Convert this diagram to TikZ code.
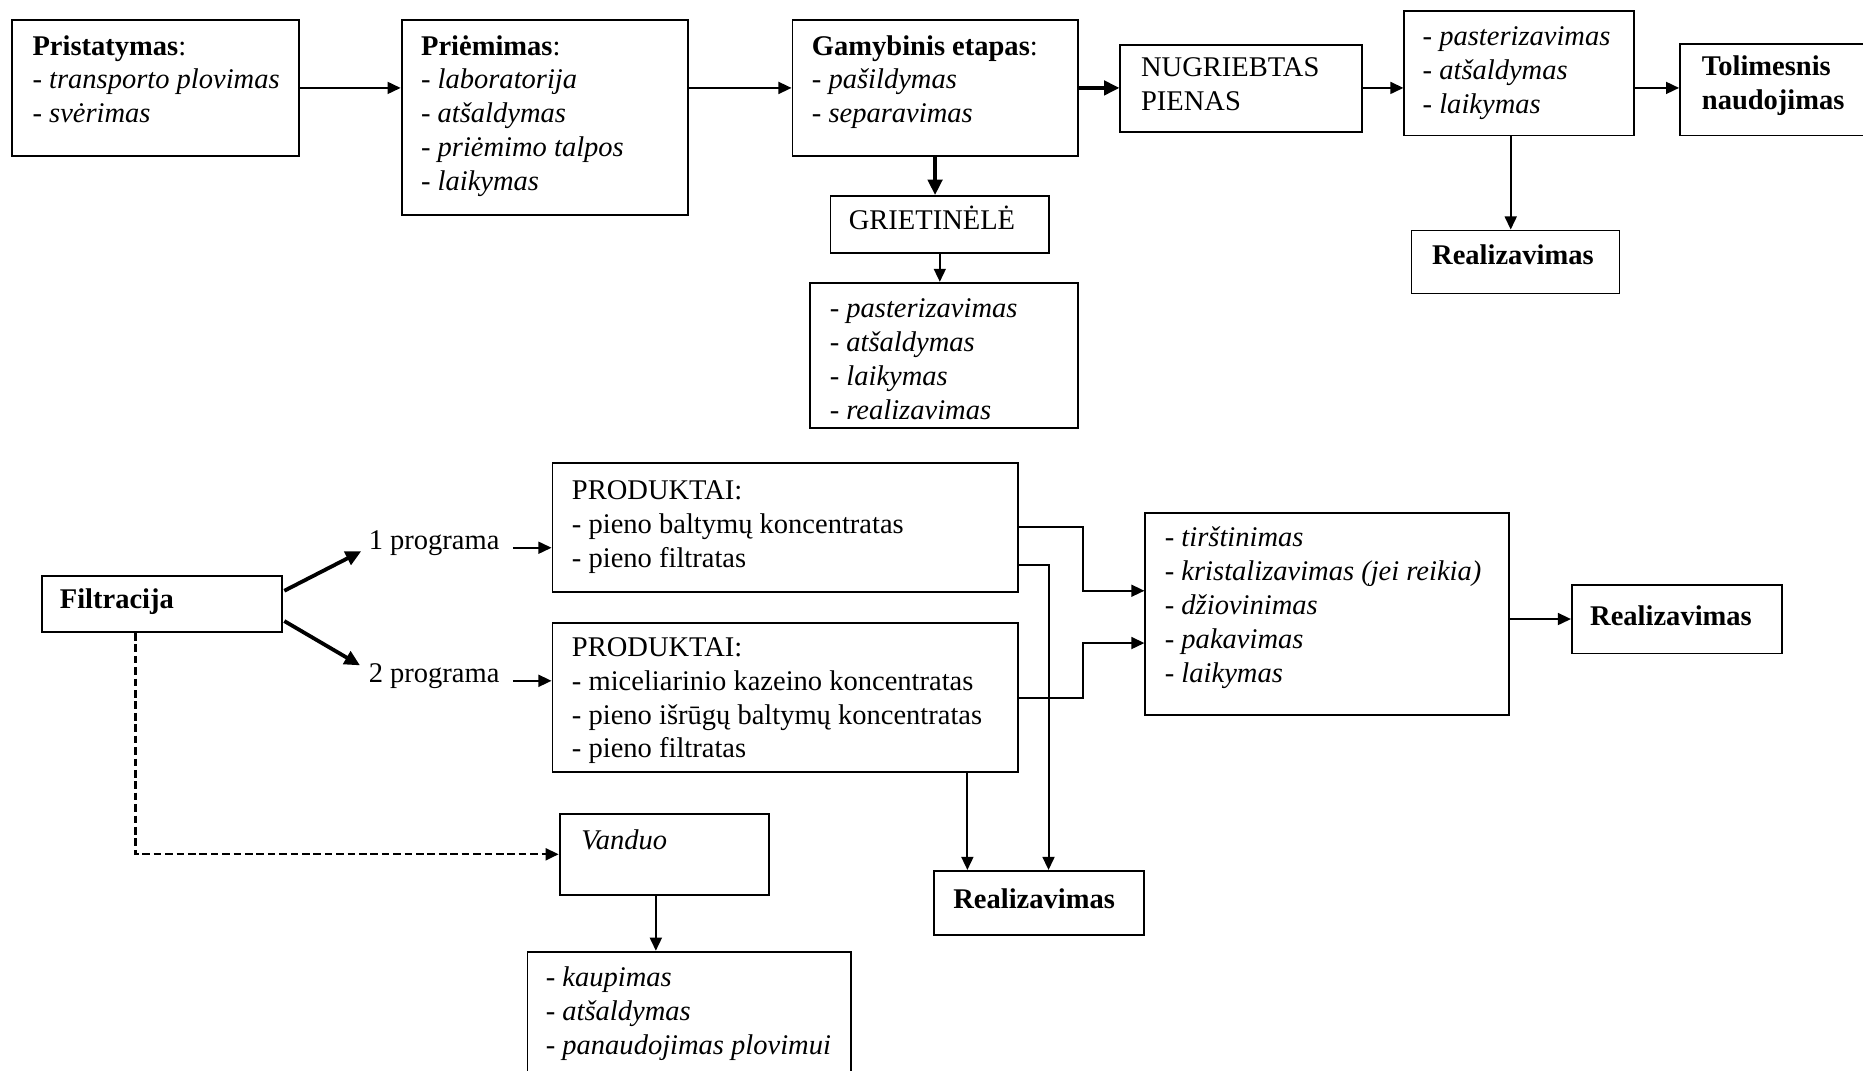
\documentclass[tikz,border=0pt]{standalone}
\usepackage{fontspec}
\setmainfont{Liberation Serif}
\usetikzlibrary{arrows.meta,fit,calc}
\newcommand{\myfs}{\fontsize{12}{14.25}\selectfont}
\newcommand{\bx}[5]{\node[box, fit={(#2,#3) (#4,#5)}] (#1) {};}
\tikzset{
  box/.style={draw, line width=0.8pt, inner sep=0pt},
  txt/.style={anchor=north west, align=left, inner sep=0pt, font=\myfs},
  arr/.style={-{Triangle[length=5.5pt,width=5pt]}, line width=0.85pt},
  thickarr/.style={-{Triangle[length=6.5pt,width=6pt]}, line width=1.6pt},
  dasharr/.style={-{Triangle[length=5.5pt,width=5pt]}, line width=1pt, dash pattern=on 3.2pt off 1.6pt},
}
\begin{document}
\begin{tikzpicture}[x=0.5pt,y=-0.5pt]
\useasboundingbox (0,0) rectangle (1568,901);
\clip (0,0) rectangle (1568,901);
% boxes
\bx{pris}{10}{17}{252}{131}
\bx{prie}{338}{17}{579}{181}
\bx{gam}{667}{17}{907}{131}
\bx{nug}{943}{38}{1146}{111}
\bx{past}{1182}{9}{1375}{114}
\bx{tol}{1414}{37}{1620}{114}
\bx{grie}{699}{165}{883}{213}
\bx{grl}{682}{238}{907}{360}
\bx{realA}{1188}{194}{1363}{247}
\bx{filt}{35}{485}{237}{532}
\bx{prodA}{465}{390}{857}{498}
\bx{prodB}{465}{524}{857}{650}
\bx{big}{964}{432}{1270}{602}
\bx{realB}{1323}{492}{1500}{550}
\bx{van}{471}{685}{647}{753}
\bx{vanl}{444}{801}{716}{940}
\bx{realC}{786}{733}{963}{787}
% texts
\node[txt] (tpris) at (27,26) {\strut\textbf{Pristatymas}:\\- \textit{transporto plovimas}\\- \textit{svėrimas}};
\node[txt] (tprie) at (354,26) {\strut\textbf{Priėmimas}:\\- \textit{laboratorija}\\- \textit{atšaldymas}\\- \textit{priėmimo talpos}\\- \textit{laikymas}};
\node[txt] (tgam) at (683,26) {\strut\textbf{Gamybinis etapas}:\\- \textit{pašildymas}\\- \textit{separavimas}};
\node[txt] (tnug) at (960,44) {\strut NUGRIEBTAS\\PIENAS};
\node[txt] (tpast) at (1197,18) {\strut- \textit{pasterizavimas}\\- \textit{atšaldymas}\\- \textit{laikymas}};
\node[txt] (ttol) at (1432,43) {\strut\textbf{Tolimesnis}\\\textbf{naudojimas}};
\node[txt] (tgrie) at (714,173) {\strut GRIETINĖLĖ};
\node[txt] (tgrl) at (698,247) {\strut- \textit{pasterizavimas}\\- \textit{atšaldymas}\\- \textit{laikymas}\\- \textit{realizavimas}};
\node[txt] (trealA) at (1205,202) {\strut\textbf{Realizavimas}};
\node[txt] (tfilt) at (50,492) {\strut\textbf{Filtracija}};
\node[txt] (tprodA) at (481,400) {\strut PRODUKTAI:\\- pieno baltymų koncentratas\\- pieno filtratas};
\node[txt] (tprodB) at (481,532) {\strut PRODUKTAI:\\- miceliarinio kazeino koncentratas\\- pieno išrūgų baltymų koncentratas\\- pieno filtratas};
\node[txt] (tbig) at (980,440) {\strut- \textit{tirštinimas}\\- \textit{kristalizavimas (jei reikia)}\\- \textit{džiovinimas}\\- \textit{pakavimas}\\- \textit{laikymas}};
\node[txt] (trealB) at (1338,506) {\strut\textbf{Realizavimas}};
\node[txt] (tvan) at (489,695) {\strut\textit{Vanduo}};
\node[txt] (tvanl) at (459,810) {\strut- \textit{kaupimas}\\- \textit{atšaldymas}\\- \textit{panaudojimas plovimui}};
\node[txt] (trealC) at (802,744) {\strut\textbf{Realizavimas}};
\node[font=\myfs, inner sep=0pt, anchor=west] (progA) at (310,457) {1 programa};
\node[font=\myfs, inner sep=0pt, anchor=west] (progB) at (310,569) {2 programa};
% top arrows
\draw[arr] (pris.east) -- (pris.east -| prie.west);
\draw[arr] (pris.east -| prie.east) -- (pris.east -| gam.west);
\draw[thickarr] (pris.east -| gam.east) -- (pris.east -| nug.west);
\draw[arr] (pris.east -| nug.east) -- (pris.east -| past.west);
\draw[arr] (pris.east -| past.east) -- (pris.east -| tol.west);
\draw[thickarr] (gam.south) -- (gam.south |- grie.north);
\draw[arr] (grie.south) -- (grie.south |- grl.north);
\coordinate (pa) at ($(realA.north)+(-4,0)$);
\draw[arr] (pa |- past.south) -- (pa);
% bottom arrows
\draw[thickarr] ($(filt.north east)+(1.5,13)$) -- ($(progA.west)+(-6,7)$);
\draw[thickarr] ($(filt.north east)+(1.5,38.5)$) -- ($(progB.west)+(-7,-9)$);
\coordinate (qa) at ($(progA.east)+(11,4)$);
\draw[arr] (qa) -- (qa -| prodA.west);
\coordinate (qb) at ($(progB.east)+(11,4)$);
\draw[arr] (qb) -- (qb -| prodB.west);
\draw[arr] ($(prodA.north east)+(0,54.7)$) -- ++(53.5,0) |- ($(big.north west)+(0,66)$);
\draw[arr] ($(prodB.north east)+(0,64.4)$) -- ++(53.5,0) |- ($(big.north west)+(0,110)$);
\coordinate (rcb) at ($(realC.north)+(8,0)$);
\draw[arr] ($(prodA.north east)+(0,86.4)$) -| (rcb);
\coordinate (rca) at ($(realC.north west)+(29,0)$);
\draw[arr] (rca |- prodB.south) -- (rca);
\draw[arr] (big.east |- realB.west) -- (realB.west);
\coordinate (va) at ($(van.south)+(-7,0)$);
\draw[arr] (va) -- (va |- vanl.north);
\coordinate (da) at ($(filt.south)+(-22,0)$);
\draw[dasharr] (da) |- (van.west);
\end{tikzpicture}
\end{document}
